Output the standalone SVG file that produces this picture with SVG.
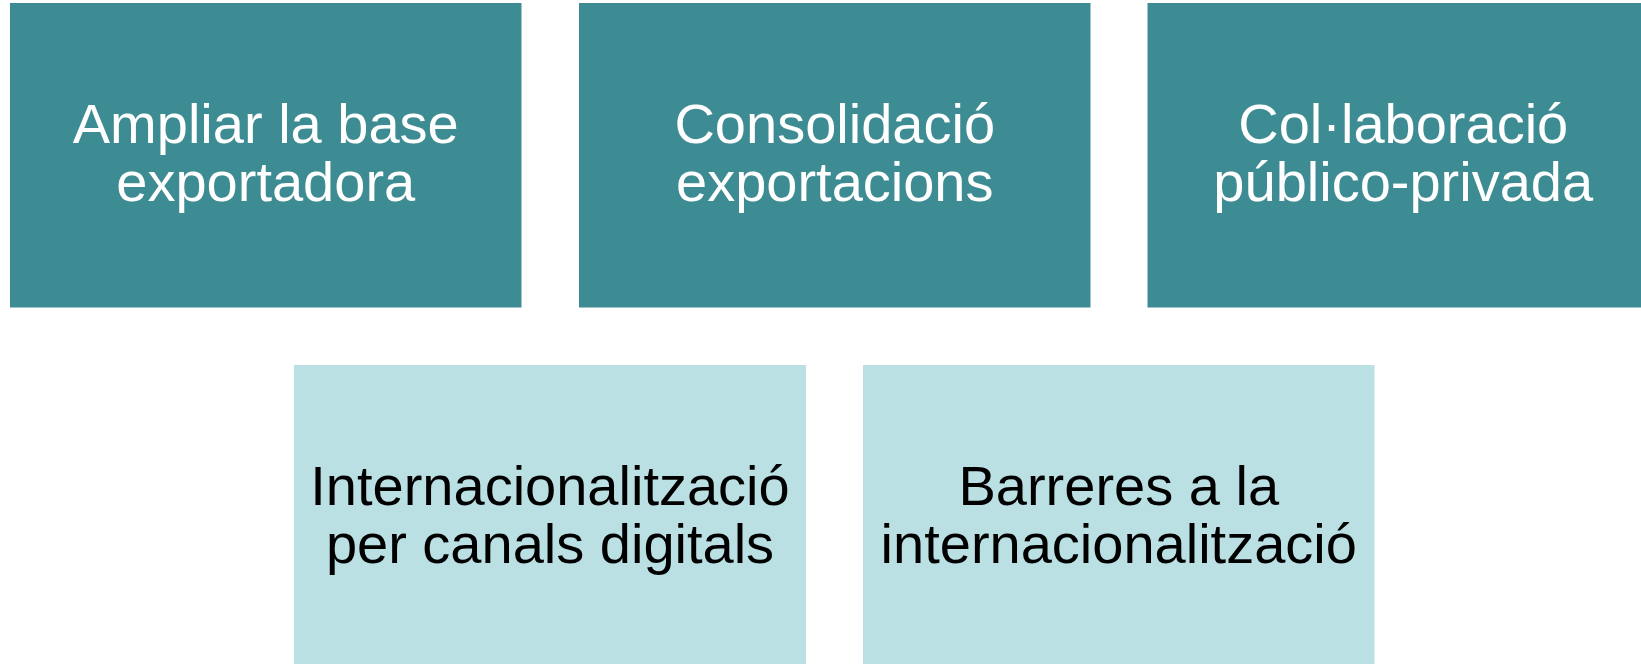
<svg xmlns="http://www.w3.org/2000/svg" width="1641" height="664" viewBox="0 0 1641 664">
<style>
.dark{fill:#3E8C93}
.light{fill:#BAE0E4}
text{font-family:"Liberation Sans",Arial,sans-serif;font-size:56px;text-anchor:middle}
.wt{fill:#FFFFFF}
.bt{fill:#000000}
</style>
<rect width="1641" height="664" fill="#FFFFFF"/>
<g id="n1"><rect class="dark" x="10" y="3" width="511.5" height="304.5"/>
<text class="wt"><tspan x="265.75" y="143">Ampliar la base</tspan><tspan x="265.75" y="201">exportadora</tspan></text></g>
<g id="n2"><rect class="dark" x="579" y="3" width="511.5" height="304.5"/>
<text class="wt"><tspan x="834.75" y="143">Consolidació</tspan><tspan x="834.75" y="201">exportacions</tspan></text></g>
<g id="n3"><rect class="dark" x="1147.5" y="3" width="511.5" height="304.5"/>
<text class="wt"><tspan x="1403.25" y="143">Col·laboració</tspan><tspan x="1403.25" y="201">público-privada</tspan></text></g>
<g id="n4"><rect class="light" x="294" y="365" width="512" height="304.5"/>
<text class="bt"><tspan x="550" y="505">Internacionalització</tspan><tspan x="550" y="563">per canals digitals</tspan></text></g>
<g id="n5"><rect class="light" x="863" y="365" width="511.5" height="304.5"/>
<text class="bt"><tspan x="1118.75" y="505">Barreres a la</tspan><tspan x="1118.75" y="563">internacionalització</tspan></text></g>
<g id="connectors"></g>
</svg>
